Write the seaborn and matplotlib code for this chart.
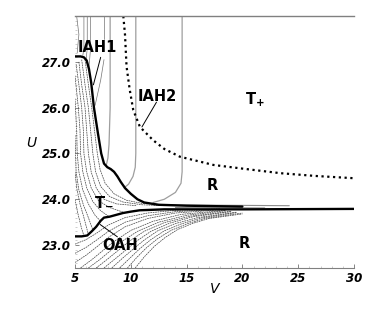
import matplotlib
matplotlib.use("Agg")
import matplotlib.pyplot as plt
import seaborn as sns
import pandas as pd
from matplotlib.ticker import MultipleLocator, FormatStrFormatter

sns.set_style("white")
plt.rcParams["font.family"] = ["DejaVu Sans"]
plt.rcParams["text.color"] = "black"
plt.rcParams["xtick.color"] = "black"
plt.rcParams["ytick.color"] = "black"
plt.rcParams["axes.labelcolor"] = "black"

# thick bifurcation curves (V, U)
iah1_curve = [(5, 27.12), (5.5, 27.12), (5.8, 27.1), (6.05, 27.03), (6.25, 26.85), (6.45, 26.55),
              (6.7, 26.0), (7.05, 25.45), (7.35, 25.0), (7.6, 24.78), (7.9, 24.7), (8.2, 24.66),
              (8.5, 24.6), (8.8, 24.5), (9.1, 24.38), (9.5, 24.24), (10.0, 24.12), (10.6, 24.0),
              (11.2, 23.93), (12.5, 23.88), (15, 23.86), (20, 23.84)]
oah_curve = [(5, 23.19), (5.6, 23.19), (6.1, 23.21), (6.5, 23.3), (6.9, 23.4), (7.3, 23.53),
             (7.6, 23.6), (8.1, 23.62), (8.7, 23.66), (9.3, 23.7), (10.0, 23.73), (10.8, 23.76),
             (13, 23.78), (20, 23.78), (30, 23.79)]
iah2_curve = [(9.33, 28.0), (9.48, 27.6), (9.62, 26.9), (9.9, 26.4), (10.22, 25.95), (10.82, 25.58),
              (12.0, 25.29), (13.0, 25.1), (14.4, 24.93), (17.4, 24.75), (20, 24.67), (23.4, 24.57),
              (26.5, 24.51), (30, 24.46)]

# thin curves left of the IAH1 branch
left_family = [
    [(5.9, 27.05), (6.2, 26.5), (6.5, 26.0), (6.75, 25.5), (7.0, 25.0), (7.25, 24.65), (7.7, 24.35),
     (8.5, 24.12), (9.6, 23.98), (11, 23.91), (14, 23.87)],
    [(5.6, 27.05), (5.9, 26.5), (6.2, 26.0), (6.4, 25.5), (6.6, 25.0), (6.85, 24.6), (7.3, 24.28),
     (8.1, 24.06), (9.3, 23.94), (11, 23.88), (13, 23.86)],
    [(5.35, 27.0), (5.6, 26.5), (5.9, 26.0), (6.05, 25.5), (6.2, 25.0), (6.45, 24.6), (6.9, 24.25),
     (7.6, 24.0), (8.7, 23.9), (10.5, 23.86)],
    [(5.1, 26.95), (5.35, 26.5), (5.6, 26.0), (5.75, 25.5), (5.8, 25.0), (6.05, 24.6), (6.45, 24.25),
     (7.1, 23.97), (8.1, 23.82), (9.3, 23.72)],
    [(5.0, 26.7), (5.3, 26.0), (5.45, 25.5), (5.5, 25.0), (5.7, 24.6), (6.05, 24.25), (6.6, 23.95),
     (7.3, 23.75), (8.0, 23.63)],
    [(5.0, 26.2), (5.15, 25.5), (5.2, 25.0), (5.35, 24.6), (5.7, 24.2), (6.2, 23.9), (6.8, 23.65),
     (7.3, 23.52)],
    [(5.0, 25.4), (5.05, 25.0), (5.1, 24.6), (5.35, 24.2), (5.75, 23.88), (6.2, 23.6), (6.6, 23.33)],
    [(5.0, 24.6), (5.15, 24.25), (5.45, 23.9), (5.8, 23.6), (6.2, 23.23)],
    [(5.0, 24.0), (5.25, 23.7), (5.55, 23.4), (5.8, 23.2)],
]

# thin curves below the OAH branch
lower_fan = [
    [(5, 23.02), (6, 23.12), (7, 23.27), (8, 23.44), (9.5, 23.6), (11.5, 23.7), (14, 23.76), (18, 23.79)],
    [(5, 22.82), (6, 22.95), (7, 23.12), (8, 23.3), (9.5, 23.5), (11.5, 23.64), (14, 23.73), (18, 23.78)],
    [(5, 22.62), (6, 22.78), (7, 22.97), (8, 23.17), (9.5, 23.4), (11.5, 23.58), (14, 23.7), (18, 23.77)],
    [(5.5, 22.5), (6.5, 22.68), (7.5, 22.88), (8.5, 23.08), (10, 23.32), (12, 23.52), (14.5, 23.67), (18.5, 23.76)],
    [(6.2, 22.5), (7.2, 22.68), (8.2, 22.88), (9.2, 23.08), (10.6, 23.3), (12.5, 23.5), (15, 23.65), (18.5, 23.75)],
    [(6.9, 22.5), (7.9, 22.69), (8.9, 22.89), (9.9, 23.09), (11.2, 23.3), (13, 23.49), (15.3, 23.63), (19, 23.74)],
    [(7.6, 22.5), (8.6, 22.7), (9.6, 22.9), (10.6, 23.1), (11.8, 23.3), (13.5, 23.48), (15.6, 23.62), (19, 23.73)],
    [(8.3, 22.5), (9.2, 22.7), (10.2, 22.91), (11.2, 23.11), (12.4, 23.31), (14, 23.47), (16, 23.6), (19.5, 23.72)],
    [(9.0, 22.5), (9.9, 22.71), (10.8, 22.92), (11.8, 23.12), (13, 23.31), (14.5, 23.46), (16.3, 23.59), (19.5, 23.71)],
    [(9.7, 22.5), (10.5, 22.72), (11.4, 22.94), (12.4, 23.14), (13.6, 23.32), (15, 23.46), (16.6, 23.58), (20, 23.7)],
    [(10.4, 22.5), (11.2, 22.74), (12.1, 22.97), (13.1, 23.17), (14.2, 23.34), (15.5, 23.47), (17, 23.58), (20, 23.68)],
]

# light vertical-ish contours in the upper part
upper_lines = [
    [(8.15, 28), (8.15, 26.0), (8.05, 25.2), (7.95, 24.9), (7.8, 24.74)],
    [(10.45, 28), (10.45, 25.0), (10.4, 24.7), (10.2, 24.5), (9.8, 24.33), (9.4, 24.25)],
    [(14.6, 28), (14.6, 24.6), (14.5, 24.35), (14.0, 24.15), (13.0, 24.0), (12.0, 23.93)],
]
top_left_lines = [
    [(5.8, 28), (5.8, 27.3), (5.7, 27.14)],
    [(6.1, 28), (6.1, 27.3), (6.0, 27.06)],
    [(6.4, 28), (6.4, 27.3), (6.25, 26.88)],
    [(7.6, 28), (7.6, 27.5)],
    [(7.6, 27.05), (7.3, 26.6), (6.8, 26.05)],
    [(5.15, 28), (5.35, 27.6), (5.2, 27.2)],
]
band_lines = [
    [(12, 23.88), (24.2, 23.86)],
    [(14, 23.82), (22, 23.81)],
]

# leader lines and labels
leader_iah1 = [(7.3, 27.1), (6.65, 26.5)]
leader_iah2 = [(12.3, 26.12), (11.0, 25.58)]
leader_oah = [(7.25, 23.45), (8.8, 23.18)]

labels = ["IAH1", "IAH2", r"$\mathbf{T}_{\mathbf{+}}$", "R", "R", r"$\mathbf{T}_{\mathbf{-}}$", "OAH"]
label_v = [7.0, 12.4, 21.1, 17.3, 20.2, 7.6, 9.05]
label_u = [27.31, 26.25, 26.17, 24.3, 23.04, 23.96, 23.0]


def draw(ax, pts, **kw):
    df = pd.DataFrame(pts, columns=["V", "U"])
    sns.lineplot(x="V", y="U", data=df, sort=False, estimator=None, ax=ax, legend=False, **kw)


fig = plt.figure(figsize=(3.74, 3.16), dpi=100)
ax = fig.add_axes([0.2005, 0.152, 0.746, 0.797])

for c in upper_lines:
    draw(ax, c, color="0.62", lw=0.9)
for c in top_left_lines:
    draw(ax, c, color="0.45", lw=0.5)
for c in band_lines:
    draw(ax, c, color="0.55", lw=0.8)
for c in left_family:
    draw(ax, c, color="0.25", lw=0.5, linestyle=(0, (2.5, 1)))
for c in lower_fan:
    draw(ax, c, color="0.25", lw=0.5, linestyle=(0, (2.5, 1)))

draw(ax, iah1_curve, color="black", lw=1.7)
draw(ax, oah_curve, color="black", lw=1.7)
draw(ax, iah2_curve, color="black", lw=1.6, linestyle=(0, (1, 1.6)))

for c in [leader_iah1, leader_iah2, leader_oah]:
    draw(ax, c, color="black", lw=0.7)

for txt, v, u in zip(labels, label_v, label_u):
    ax.text(v, u, txt, ha="center", va="center", fontsize=10.5, fontweight="bold", color="black")

ax.set_xlim(5, 30)
ax.set_ylim(22.5, 28.0)
ax.set_xticks([5, 10, 15, 20, 25, 30])
ax.set_yticks([23, 24, 25, 26, 27])
ax.xaxis.set_minor_locator(MultipleLocator(1))
ax.yaxis.set_minor_locator(MultipleLocator(0.1))
ax.yaxis.set_major_formatter(FormatStrFormatter("%.1f"))
ax.tick_params(axis="both", which="major", direction="in", length=3, width=0.6, color="0.45",
               labelsize=8.5, pad=3, labelcolor="black")
ax.tick_params(axis="both", which="minor", direction="in", length=1.5, width=0.4, color="0.65")
ax.tick_params(axis="x", bottom=True, which="both")
ax.tick_params(axis="y", left=True, which="both")
for lab in ax.get_xticklabels() + ax.get_yticklabels():
    lab.set_fontweight("bold")
    lab.set_fontstyle("italic")

ax.spines["right"].set_visible(False)
ax.spines["left"].set_visible(False)
ax.spines["top"].set_color("0.5")
ax.spines["top"].set_linewidth(1.0)
ax.spines["bottom"].set_color("0.5")
ax.spines["bottom"].set_linewidth(0.8)

ax.set_xlabel("V", fontsize=10, fontstyle="italic", labelpad=-2)
ax.set_ylabel("U", fontsize=10, fontstyle="italic", rotation=0)
ax.yaxis.set_label_coords(-0.155, 0.47)

fig.savefig("out.png", dpi=100)
